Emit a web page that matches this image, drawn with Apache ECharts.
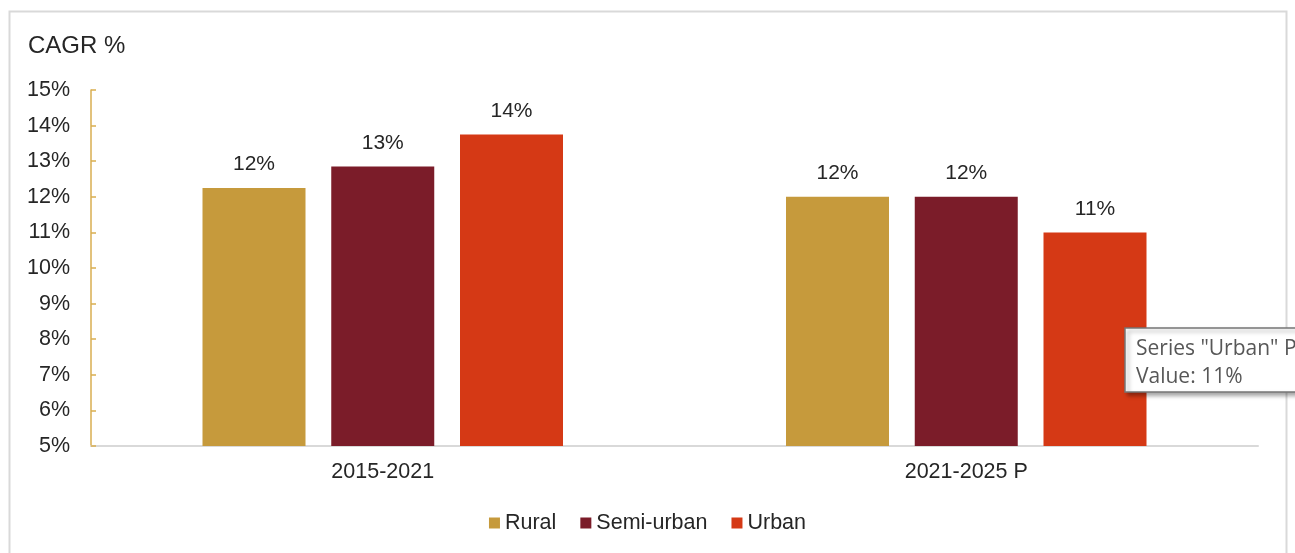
<!DOCTYPE html>
<html>
<head>
<meta charset="utf-8">
<script src="https://cdn.jsdelivr.net/npm/echarts@6/dist/echarts.min.js"></script>
<style>
html,body{margin:0;padding:0;background:#fff;}
#chart{width:1295px;height:553px;}
</style>
</head>
<body>
<div id="chart"></div>
<script>
const categories = ['2015-2021', '2021-2025 P'];
const rural = [12.25, 12.0];
const semiUrban = [12.85, 12.0];
const urban = [13.75, 11.0];
const seriesNames = ['Rural', 'Semi-urban', 'Urban'];
const yTitle = 'CAGR %';
const tooltipLines = ['Series "Urban" Point "2021-2025 P"', 'Value: 11%'];

const colors = ['#C69A3C', '#7B1C29', '#D53915'];
const font = 'Liberation Sans, Arial, sans-serif';

const chart = echarts.init(document.getElementById('chart'), null, {renderer: 'canvas'});

function barSeries(name, data, color) {
  return {
    name: name,
    type: 'bar',
    data: data,
    barWidth: 103,
    barGap: '25%',
    itemStyle: {color: color},
    label: {
      show: true,
      position: 'top',
      distance: 13,
      fontFamily: font,
      fontSize: 21,
      color: '#262626',
      formatter: p => Math.round(p.value) + '%'
    }
  };
}

chart.setOption({
  animation: false,
  color: colors,
  grid: {left: 91, right: 37, top: 90, bottom: 107},
  xAxis: {
    type: 'category',
    data: categories,
    axisLine: {lineStyle: {color: '#D9D9D9', width: 2}},
    axisTick: {show: false},
    axisLabel: {fontFamily: font, fontSize: 21.5, color: '#262626', margin: 15}
  },
  yAxis: {
    type: 'value',
    min: 5,
    max: 15,
    interval: 1,
    axisLine: {show: true, lineStyle: {color: '#D9AE50', width: 1.5}},
    axisTick: {show: true, inside: true, length: 5, lineStyle: {color: '#D9AE50', width: 1.5}},
    splitLine: {show: false},
    axisLabel: {fontFamily: font, fontSize: 21.5, color: '#262626', margin: 21, formatter: '{value}%'}
  },
  legend: {
    data: seriesNames,
    top: 507,
    left: 'center',
    icon: 'rect',
    itemWidth: 11,
    itemHeight: 11,
    itemGap: 24,
    textStyle: {fontFamily: font, fontSize: 21.5, color: '#262626'}
  },
  graphic: [
    {
      type: 'rect',
      shape: {x: 9.5, y: 11.5, width: 1277, height: 560},
      style: {fill: 'none', stroke: '#D9D9D9', lineWidth: 2},
      silent: true
    },
    {
      type: 'text',
      left: 28,
      top: 34,
      style: {text: yTitle, fontFamily: font, fontSize: 24, fill: '#262626'}
    },
    {
      type: 'group',
      x: 1125,
      y: 328,
      zlevel: 1,
      z: 100,
      children: [
        {
          type: 'rect',
          z: 100,
          zlevel: 1,
          shape: {x: 0, y: 0, width: 300, height: 64},
          style: {fill: '#FFFFFF', stroke: '#767676', lineWidth: 1.5,
                  shadowBlur: 4, shadowOffsetX: 3, shadowOffsetY: 3, shadowColor: 'rgba(0,0,0,0.35)'}
        },
        {
          type: 'text',
          z: 101,
          zlevel: 1,
          x: 11,
          y: 7,
          style: {text: tooltipLines.join('\n'), fontFamily: 'Open Sans, Noto Sans, sans-serif',
                  fontSize: 21, lineHeight: 28, fill: '#575757'}
        }
      ]
    }
  ],
  series: [
    barSeries(seriesNames[0], rural, colors[0]),
    barSeries(seriesNames[1], semiUrban, colors[1]),
    barSeries(seriesNames[2], urban, colors[2])
  ]
});
</script>
</body>
</html>
